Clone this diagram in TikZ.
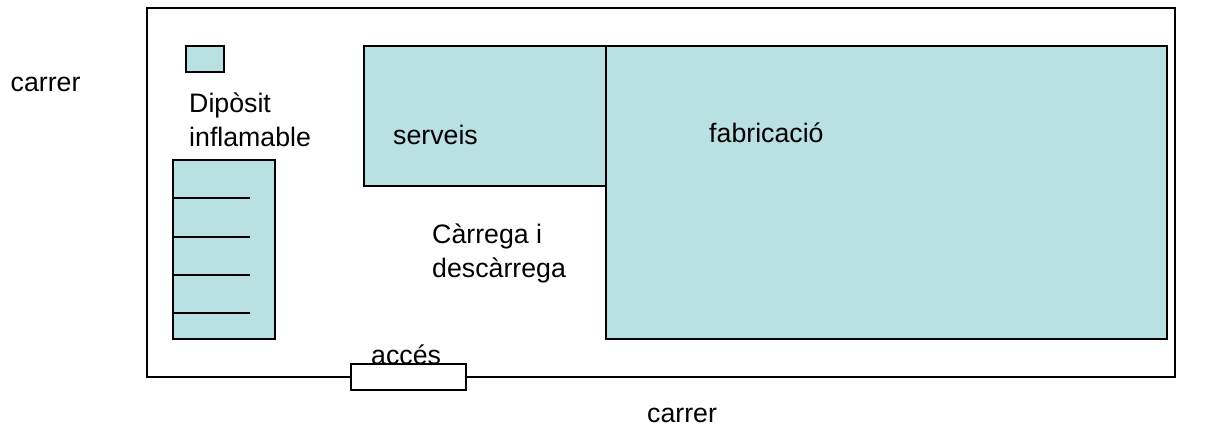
\documentclass[tikz,border=0pt]{standalone}
\usepackage{fontspec}
\setmainfont{Liberation Sans}
\definecolor{zona}{HTML}{B9E0E2}
\tikzset{
  zonebox/.style={draw=black, fill=zona, line width=1.6pt, inner sep=0pt},
  label/.style={inner sep=0pt, align=left, font=\fontsize{22.8}{29}\selectfont}
}
\begin{document}
\begin{tikzpicture}[x=0.03cm, y=-0.03cm]
    \useasboundingbox (0, 0) rectangle (1205, 425);

    \node (parcela) [draw=black, line width=1.6pt, inner sep=0pt, minimum width=30.84cm, minimum height=11.07cm] at (661, 192.5) {};

    \node (diposit) [zonebox, minimum width=1.14cm, minimum height=0.78cm] at (205, 59) {};
    \node (magatzem) [zonebox, minimum width=3.06cm, minimum height=5.37cm] at (224, 249.5) {};
    \node (serveis) [zonebox, minimum width=7.26cm, minimum height=4.2cm] at (485, 116) {};
    \node (fabricacio) [zonebox, minimum width=16.83cm, minimum height=8.79cm] at (886.5, 192.5) {};
    \node (acces) [draw=black, fill=white, line width=1.6pt, inner sep=0pt, minimum width=3.45cm, minimum height=0.78cm] at (408.5, 377) {};

    \foreach \y/\n in {198.3/a, 237/b, 275/c, 313/d} {
      \coordinate (prestatge\n) at (250, \y);
      \draw [line width=1.6pt] (prestatge\n -| magatzem.west) -- (prestatge\n);
    }

    \node (carrerA) [label, anchor=base west] at (10.5, 92) {carrer};
    \node (carrerB) [label, anchor=base west] at (647, 422.5) {carrer};
    \node (inflamable) [label, anchor=west] at (189, 120) {Dipòsit\\inflamable};
    \node (txtserveis) [label, anchor=base west] at (393, 145) {serveis};
    \node (txtfabricacio) [label, anchor=base west] at (709, 143) {fabricació};
    \node (carrega) [label, anchor=west] at (432, 253) {Càrrega i\\descàrrega};
    \node (txtacces) [label, anchor=base west] at (371, 364) {accés};
  \end{tikzpicture}
\end{document}
